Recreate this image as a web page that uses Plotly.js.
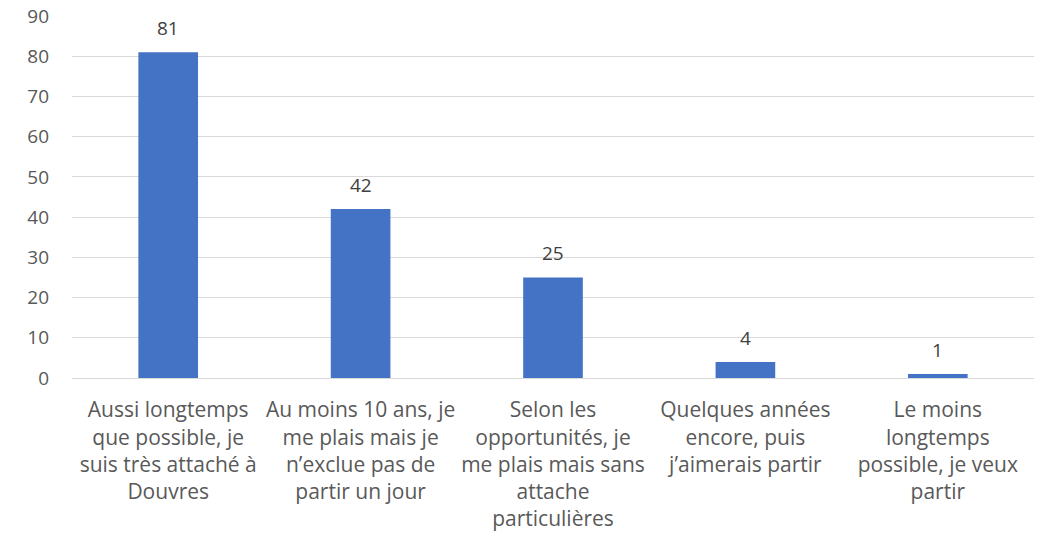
<!DOCTYPE html>
<html><head><meta charset="utf-8">
<script src="https://cdn.plot.ly/plotly-3.0.1.min.js"></script>
<style>body{margin:0;background:#fff}#c{width:1040px;height:540px}</style>
</head><body><div id="c"></div>
<script>
const categories = [
  "Aussi longtemps<br>que possible, je<br>suis très attaché à<br>Douvres",
  "Au moins 10 ans, je<br>me plais mais je<br>n’exclue pas de<br>partir un jour",
  "Selon les<br>opportunités, je<br>me plais mais sans<br>attache<br>particulières",
  "Quelques années<br>encore, puis<br>j’aimerais partir",
  "Le moins<br>longtemps<br>possible, je veux<br>partir"
];
const values = [81, 42, 25, 4, 1];
const yTicks = [0, 10, 20, 30, 40, 50, 60, 70, 80, 90];

const FONT = "Open Sans, Noto Sans, sans-serif";
const annotations = categories.map((c, i) => ({
  x: c, y: values[i], text: String(values[i]), showarrow: false,
  yanchor: "bottom", yshift: 9, font: {family: FONT, size: 19, color: "#404040"}
}));

Plotly.newPlot("c", [{
  type: "bar", x: categories, y: values,
  marker: {color: "#4472C4"}, hoverinfo: "none"
}], {
  width: 1040, height: 540,
  margin: {l: 72, r: 6, t: 16, b: 162},
  bargap: 0.69,
  paper_bgcolor: "#fff", plot_bgcolor: "#fff",
  font: {family: FONT, size: 19, color: "#595959"},
  xaxis: {tickfont: {family: FONT, size: 21, color: "#595959"}, showline: true,
    linecolor: "#d9d9d9", linewidth: 1, ticks: "", ticklabelstandoff: 13},
  yaxis: {range: [0, 90], tickvals: yTicks, showgrid: true, gridcolor: "#d9d9d9",
    zeroline: false, showline: false, ticks: "", ticklabelstandoff: 22,
    tickfont: {family: FONT, size: 19, color: "#595959"}},
  annotations: annotations,
  showlegend: false
}, {displayModeBar: false, staticPlot: true});
</script></body></html>
